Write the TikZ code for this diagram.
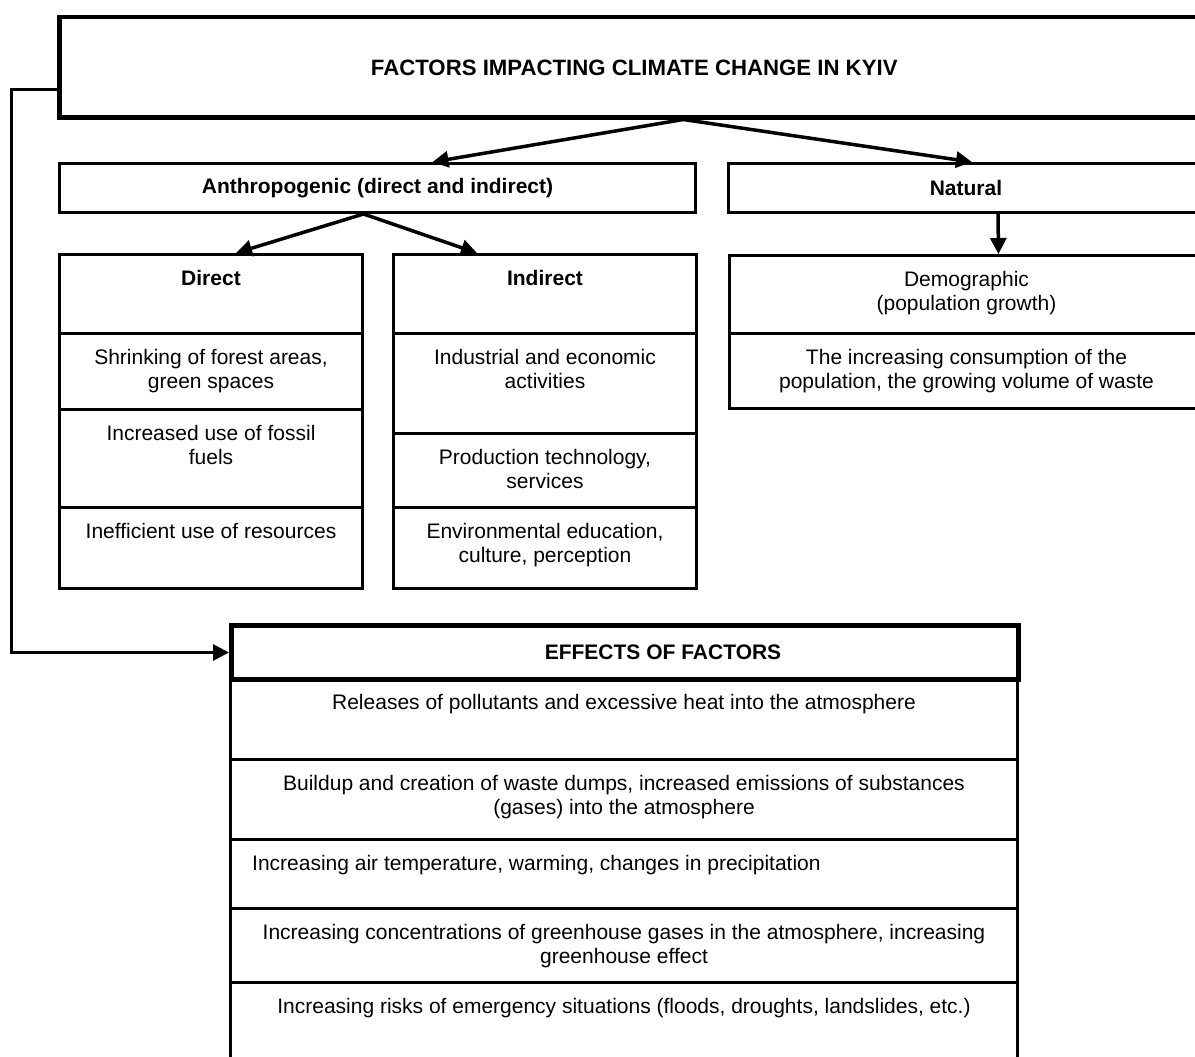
\documentclass[tikz,border=0pt]{standalone}
\usepackage{fontspec}
\setmainfont{Liberation Sans}
\usetikzlibrary{arrows.meta}

\tikzset{
  cell/.style={draw=black, line width=3pt, rectangle, anchor=north west, inner sep=0pt},
  txt/.style={anchor=north, inner sep=0pt, align=center, font=\fontsize{21}{24.5}\selectfont},
  head/.style={font=\fontsize{21}{24.5}\selectfont\bfseries},
  arr/.style={line width=3.5pt, -{Triangle[length=16pt,width=16pt]}},
}

\begin{document}
\begin{tikzpicture}[x=1pt, y=-1pt]
    \useasboundingbox (0,0) rectangle (1195,1057);
    \fill[white] (0,0) rectangle (1195,1057);
    \begin{scope}
    \clip (0,0) rectangle (1195,1057);

    % main title
    \node[cell, line width=4.5pt, minimum width=1150, minimum height=100] (title) at (57,15) {};
    \node[txt, anchor=center, font=\fontsize{22.2}{26}\selectfont\bfseries] at ([yshift=-1pt]title.center) {FACTORS IMPACTING CLIMATE CHANGE IN KYIV};

    % two groups
    \node[cell, minimum width=636, minimum height=49, head] (anth) at (58,162) {Anthropogenic (direct and indirect)};
    \node[cell, minimum width=475, minimum height=49, head] (nat) at (727,162) {Natural};

    % direct column
    \node[cell, minimum width=303, minimum height=79] (dir) at (58,253) {};
    \node[txt, head] at ([yshift=-17pt]dir.north) {Direct};
    \node[cell, minimum width=303, minimum height=76] (dir1) at (58,332) {};
    \node[txt] at ([yshift=-17pt]dir1.north) {Shrinking of forest areas,\\green spaces};
    \node[cell, minimum width=303, minimum height=98] (dir2) at (58,408) {};
    \node[txt] at ([yshift=-17pt]dir2.north) {Increased use of fossil\\fuels};
    \node[cell, minimum width=303, minimum height=81] (dir3) at (58,506) {};
    \node[txt] at ([yshift=-17pt]dir3.north) {Inefficient use of resources};

    % indirect column
    \node[cell, minimum width=303, minimum height=79] (ind) at (392,253) {};
    \node[txt, head] at ([yshift=-17pt]ind.north) {Indirect};
    \node[cell, minimum width=303, minimum height=100] (ind1) at (392,332) {};
    \node[txt] at ([yshift=-17pt]ind1.north) {Industrial and economic\\activities};
    \node[cell, minimum width=303, minimum height=74] (ind2) at (392,432) {};
    \node[txt] at ([yshift=-17pt]ind2.north) {Production technology,\\services};
    \node[cell, minimum width=303, minimum height=81] (ind3) at (392,506) {};
    \node[txt] at ([yshift=-17pt]ind3.north) {Environmental education,\\culture, perception};

    % natural column
    \node[cell, minimum width=474, minimum height=78] (nat1) at (728,254) {};
    \node[txt] at ([yshift=-17pt]nat1.north) {Demographic\\(population growth)};
    \node[cell, minimum width=474, minimum height=75] (nat2) at (728,332) {};
    \node[txt] at ([yshift=-17pt]nat2.north) {The increasing consumption of the\\population, the growing volume of waste};

    % effects
    \node[cell, minimum width=787, minimum height=81] (eff1) at (229,677) {};
    \node[txt] at ([yshift=-17pt]eff1.north) {Releases of pollutants and excessive heat into the atmosphere};
    \node[cell, minimum width=787, minimum height=80] (eff2) at (229,758) {};
    \node[txt] at ([yshift=-17pt]eff2.north) {Buildup and creation of waste dumps, increased emissions of substances\\(gases) into the atmosphere};
    \node[cell, minimum width=787, minimum height=69] (eff3) at (229,838) {};
    \node[txt, anchor=north west] at ([xshift=23pt, yshift=-17pt]eff3.north west) {Increasing air temperature, warming, changes in precipitation};
    \node[cell, minimum width=787, minimum height=74] (eff4) at (229,907) {};
    \node[txt] at ([yshift=-17pt]eff4.north) {Increasing concentrations of greenhouse gases in the atmosphere, increasing\\greenhouse effect};
    \node[cell, minimum width=787, minimum height=110] (eff5) at (229,981) {};
    \node[txt] at ([yshift=-17pt]eff5.north) {Increasing risks of emergency situations (floods, droughts, landslides, etc.)};
    \node[cell, line width=5pt, minimum width=787, minimum height=54] (effhead) at (229,623) {};
    \node[txt, head, anchor=center] at ([xshift=38pt]effhead.center) {EFFECTS OF FACTORS};

    % connectors
    \draw[arr] ([xshift=49pt]title.south) -- ([xshift=55pt]anth.north);
    \draw[arr] ([xshift=49pt]title.south) -- ([xshift=6pt]nat.north);
    \draw[arr] ([xshift=-14pt]anth.south) -- ([xshift=25pt]dir.north);
    \draw[arr] ([xshift=-14pt]anth.south) -- ([xshift=-68pt]ind.north);
    \draw[arr] ([xshift=32pt]nat.south) -- ([xshift=32pt]nat1.north);
    \coordinate (fb) at (11,650);
    \draw[arr, line width=3pt] ([yshift=-22pt]title.west) -| (fb |- effhead.west) -- (effhead.west);
    \end{scope}
\end{tikzpicture}
\end{document}
